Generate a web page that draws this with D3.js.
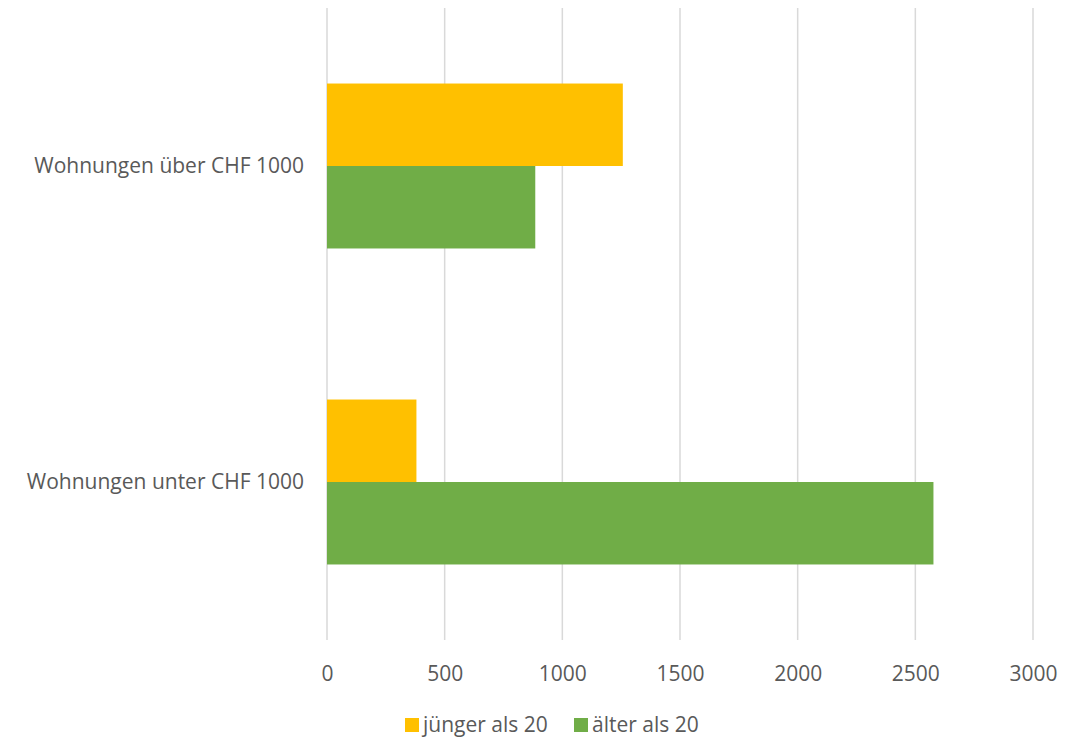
<!DOCTYPE html>
<html>
<head>
<meta charset="utf-8">
<script src="https://cdn.jsdelivr.net/npm/d3@7"></script>
<style>
  html, body { margin: 0; padding: 0; background: #fff; }
  svg { display: block; }
  text { font-family: "Open Sans", "Noto Sans", sans-serif; fill: #595959; }
</style>
</head>
<body>
<svg id="chart" width="1082" height="737"></svg>
<script>
// Wohnungen nach Mietpreis und Alter der Mieter
const categories = ["Wohnungen über CHF 1000", "Wohnungen unter CHF 1000"];
const seriesNames = ["jünger als 20", "älter als 20"];
const juengerValues = [1257, 380];
const aelterValues = [885, 2577];
const tickValues = [0, 500, 1000, 1500, 2000, 2500, 3000];
const colors = ["#FFC000", "#70AD47"];

const svg = d3.select("#chart");
const plot = { left: 327, right: 1033, top: 8, bottom: 640 };
const fontSize = 21;
const fontFamily = '"Open Sans", "Noto Sans", sans-serif';

const x = d3.scaleLinear().domain([0, 3000]).range([plot.left, plot.right]);
const y = d3.scaleBand().domain(categories).range([plot.top, plot.bottom])
  .paddingInner(0.478).paddingOuter(0.239);
const ySub = d3.scaleBand().domain(seriesNames).range([0, y.bandwidth()]);

const rows = categories.map((c, i) => ({
  category: c,
  values: [
    { series: seriesNames[0], value: juengerValues[i] },
    { series: seriesNames[1], value: aelterValues[i] }
  ]
}));

// vertical gridlines
svg.append("g").selectAll("line").data(tickValues).join("line")
  .attr("x1", d => x(d)).attr("x2", d => x(d))
  .attr("y1", plot.top).attr("y2", plot.bottom)
  .attr("stroke", "#d9d9d9").attr("stroke-width", 1.5);

// bars
const groups = svg.append("g").selectAll("g").data(rows).join("g")
  .attr("transform", d => `translate(0,${y(d.category)})`);
groups.selectAll("rect").data(d => d.values).join("rect")
  .attr("x", x(0))
  .attr("y", d => ySub(d.series))
  .attr("width", d => x(d.value) - x(0))
  .attr("height", ySub.bandwidth())
  .attr("fill", (d, i) => colors[i]);

// x axis labels
const xAxis = d3.axisBottom(x).tickValues(tickValues).tickFormat(d3.format("d"))
  .tickSize(0).tickPadding(0);
const gx = svg.append("g").attr("transform", `translate(0,${plot.bottom + 26})`).call(xAxis);
gx.select(".domain").remove();
gx.selectAll("text").attr("font-size", fontSize).attr("fill", "#595959")
  .style("font-family", fontFamily);

// category labels
const yAxis = d3.axisLeft(y).tickSize(0).tickPadding(23);
const gy = svg.append("g").attr("transform", `translate(${plot.left},0)`).call(yAxis);
gy.select(".domain").remove();
gy.selectAll("text").attr("font-size", fontSize).attr("fill", "#595959")
  .style("font-family", fontFamily);

// legend
const legend = svg.append("g").attr("transform", "translate(405,725)");
const legendItems = [{ name: seriesNames[0], x: 0 }, { name: seriesNames[1], x: 169 }];
legendItems.forEach((item, i) => {
  const g = legend.append("g").attr("transform", `translate(${item.x},0)`);
  g.append("rect").attr("x", 0).attr("y", -7).attr("width", 14).attr("height", 14).attr("fill", colors[i]);
  g.append("text").attr("x", 18).attr("y", 0).attr("dy", "0.35em").attr("font-size", fontSize).text(item.name);
});
</script>
</body>
</html>
